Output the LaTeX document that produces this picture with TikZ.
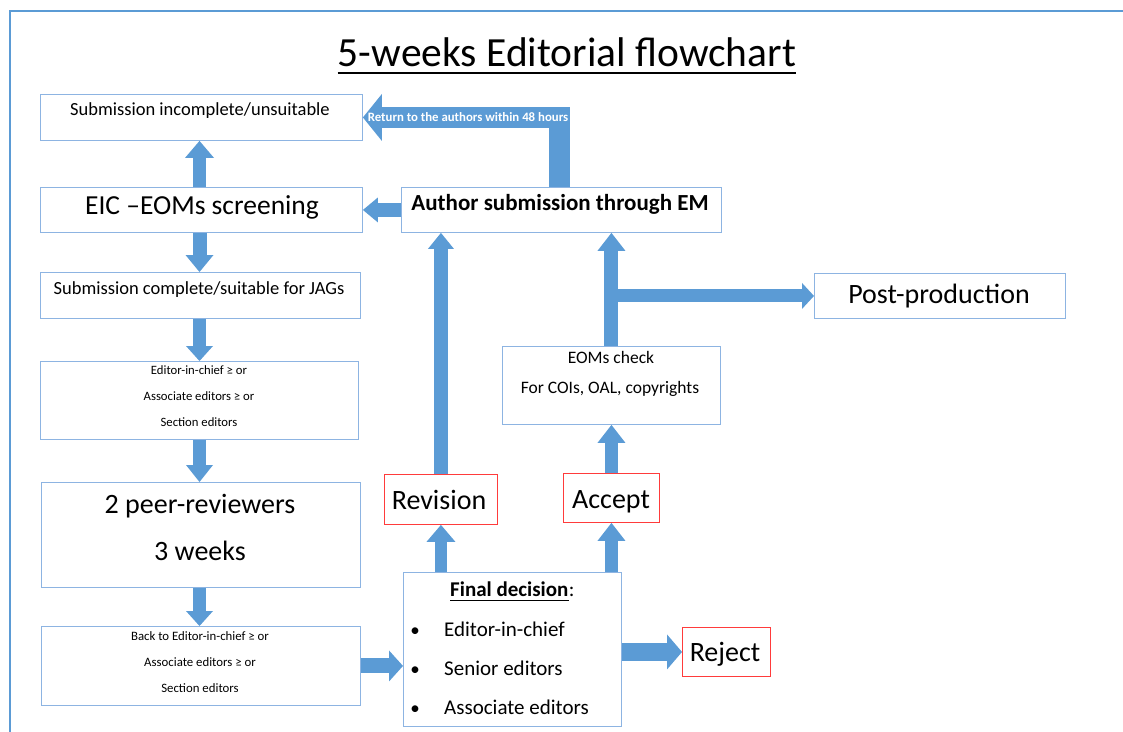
\documentclass[tikz,border=0pt]{standalone}
\usepackage{fontspec}
\setmainfont{Carlito}
\usetikzlibrary{arrows.meta,calc}
\definecolor{arrowblue}{HTML}{5B9BD5}
\definecolor{boxblue}{HTML}{8DB4E2}
\definecolor{framec}{HTML}{5B9BD5}
\definecolor{redb}{HTML}{FF3B3B}
\newcommand{\fsz}[1]{\fontsize{#1}{#1}\selectfont}
\begin{document}
\begin{tikzpicture}[x=1pt,y=-1pt,
  box/.style={draw=boxblue, line width=0.9pt, inner sep=0pt, anchor=north west, fill=white},
  rbox/.style={draw=redb, line width=0.9pt, inner sep=0pt, anchor=north west, fill=white},
  txt/.style={inner sep=0pt, anchor=base},
  ltxt/.style={inner sep=0pt, anchor=base west},
  barrow/.style n args={3}{draw=arrowblue, line width=#1, line join=miter,
     -{Triangle[width=#2,length=#3,line width=0pt]}}
]
\useasboundingbox (0,0) rectangle (1123,731);
% frame
\draw[framec, line width=2pt] (1130,11) -- (10,11) -- (10,740);

% title
\node[txt] (title) at (567,66) {\fsz{41.5}5-weeks Editorial flowchart};
\draw[line width=2pt] ([yshift=-7pt]title.base west) -- ([yshift=-7pt]title.base east);

% boxes
\node[box, minimum width=322pt, minimum height=46pt] (incomp) at (40,94) {};
\node[box, minimum width=322pt, minimum height=45pt] (screen) at (40,187) {};
\node[box, minimum width=320pt, minimum height=45pt] (author) at (401,187) {};
\node[box, minimum width=320pt, minimum height=46pt] (complete) at (40,272) {};
\node[box, minimum width=318pt, minimum height=78pt] (ed) at (40,361) {};
\node[box, minimum width=319pt, minimum height=105pt] (peer) at (41,482) {};
\node[box, minimum width=319pt, minimum height=79pt] (back) at (41,626) {};
\node[box, minimum width=218pt, minimum height=154pt] (fin) at (403,572) {};
\node[rbox, minimum width=113pt, minimum height=50pt] (rev) at (384,474) {};
\node[rbox, minimum width=96pt, minimum height=49pt] (acc) at (563,473) {};
\node[rbox, minimum width=88pt, minimum height=49pt] (rej) at (682,627) {};
\node[box, minimum width=218pt, minimum height=78pt] (eoms) at (502,346) {};
\node[box, minimum width=251pt, minimum height=45pt] (post) at (814,273) {};

% texts
\node[txt] (t1) at (200,115) {\fsz{18.5}Submission incomplete/unsuitable};
\node[txt] (t2) at (202,214) {\fsz{27.5}EIC –EOMs screening};
\node[txt] (t3) at (560,210) {\fsz{23}\bfseries Author submission through EM};
\node[txt] (t4) at (199,294) {\fsz{18.5}Submission complete/suitable for JAGs};
\node[txt] (t5) at (199,374) {\fsz{12.7}Editor-in-chief ≥ or};
\node[txt] (t6) at (199,400) {\fsz{12.7}Associate editors ≥ or};
\node[txt] (t7) at (199,426) {\fsz{12.7}Section editors};
\node[txt] (t8) at (200,513) {\fsz{28}2 peer-reviewers};
\node[txt] (t9) at (200,560) {\fsz{28}3 weeks};
\node[txt] (t10) at (200,640) {\fsz{12.8}Back to Editor-in-chief ≥ or};
\node[txt] (t11) at (200,666) {\fsz{12.8}Associate editors ≥ or};
\node[txt] (t12) at (200,692) {\fsz{12.8}Section editors};
\node[txt] (t13) at (611,363) {\fsz{17.5}EOMs check};
\node[txt] (t14) at (610,393) {\fsz{17.5}For COIs, OAL, copyrights};
\node[txt] (t15) at (939,303) {\fsz{28}Post-production};
\node[txt] (t16) at (439,509) {\fsz{28}Revision};
\node[txt] (t17) at (611,508) {\fsz{28}Accept};
\node[txt] (t18) at (725,661) {\fsz{28}Reject};
\node[ltxt] (fd) at (450,596) {\fsz{21}\bfseries Final decision};
\node[ltxt] (fdc) at (fd.base east) {\fsz{21}:};
\draw[line width=1.2pt] ([yshift=-4.5pt]fd.base west) -- ([yshift=-4.5pt]fd.base east);
\node[txt] (b1) at (415,636) {\fsz{19}•};
\node[txt] (b2) at (415,675) {\fsz{19}•};
\node[txt] (b3) at (415,714) {\fsz{19}•};
\node[ltxt] (i1) at (444,636) {\fsz{21}Editor-in-chief};
\node[ltxt] (i2) at (444,675) {\fsz{21}Senior editors};
\node[ltxt] (i3) at (444,714) {\fsz{21}Associate editors};

% arrows
\coordinate (retx) at (559,0);
\coordinate (colx) at (199.5,0);
\draw[barrow={21pt}{47pt}{19pt}] (author.north -| retx) |- (incomp.east);
\node[txt, text=white] (rett) at (468,121) {\fsz{12.8}\bfseries Return to the authors within 48 hours};
\draw[barrow={13.5pt}{29pt}{17pt}] (screen.north -| colx) -- (incomp.south -| colx);
\draw[barrow={14pt}{25pt}{15pt}] (author.west) -- (screen.east);
\draw[barrow={14pt}{28pt}{17pt}] (screen.south -| colx) -- (complete.north -| colx);
\draw[barrow={13.5pt}{27pt}{15pt}] (complete.south -| colx) -- (ed.north -| colx);
\draw[barrow={13.5pt}{27pt}{17pt}] (ed.south -| colx) -- (peer.north -| colx);
\draw[barrow={13.5pt}{27pt}{15pt}] (peer.south -| colx) -- (back.north -| colx);
\draw[barrow={15pt}{31pt}{14pt}] (back.east) -- (back.east -| fin.west);
\draw[barrow={18pt}{35pt}{15pt}] (fin.east |- rej.west) -- (rej.west);
\draw[barrow={12.5pt}{29pt}{17pt}] (rev.south |- fin.north) -- (rev.south);
\draw[barrow={13.5pt}{28pt}{18pt}] (acc.south |- fin.north) -- (acc.south);
\draw[barrow={14.5pt}{26pt}{16pt}] (rev.north) -- (rev.north |- author.south);
\draw[barrow={13.5pt}{28pt}{18pt}] (acc.north) -- (eoms.south);
\draw[barrow={14pt}{28pt}{18pt}] (eoms.north) -- (eoms.north |- author.south);
\draw[barrow={13pt}{26pt}{12pt}] ([xshift=-7pt]eoms.north |- post.west) -- (post.west);
\end{tikzpicture}
\end{document}
